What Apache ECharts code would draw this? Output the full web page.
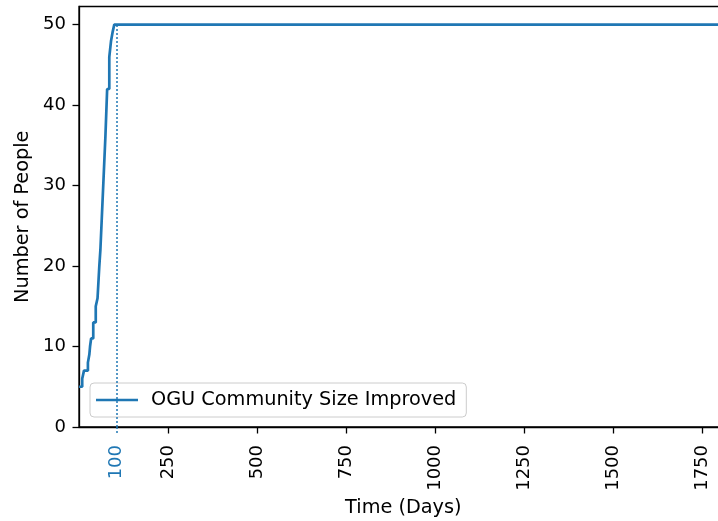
<!DOCTYPE html>
<html>
<head>
<meta charset="utf-8">
<script src="https://cdn.jsdelivr.net/npm/echarts@6/dist/echarts.min.js"></script>
<style>
html,body{margin:0;padding:0;background:#fff;}
#chart{width:718px;height:521px;}
</style>
</head>
<body>
<div id="chart"></div>
<script>
// Step data: day at which community size changes, and new size
const days   = [0, 9, 14, 25, 29, 31, 34, 40, 47, 52, 57, 60, 64, 69, 74, 79, 85, 90, 94, 99, 1820];
const people = [5, 6, 7, 8, 9, 10, 11, 13, 15, 16, 20, 22, 26, 31, 36, 42, 46, 48, 49, 50, 50];
const seriesName = 'OGU Community Size Improved';
const xTicks = [250, 500, 750, 1000, 1250, 1500, 1750];
const yTicks = [0, 10, 20, 30, 40, 50];
const markDay = 105;
const markLabel = '100';
const markTop = 50;
const xMin = 0, xMax = 1820;
const yMin = 0, yMax = 52.25;

const FONT = 'DejaVu Sans';
const BLUE = '#1f77b4';

const chart = echarts.init(document.getElementById('chart'), null, {renderer: 'canvas'});
const pxPerDay = 0.3564;
const gridLeft = 79;
const gridWidth = (xMax - xMin) * pxPerDay;

chart.setOption({
  animation: false,
  backgroundColor: '#fff',
  textStyle: {fontFamily: FONT},
  grid: {
    left: gridLeft, top: 6.5, bottom: 94,
    width: gridWidth,
    outerBoundsMode: 'none',
    containLabel: false,
    show: true, borderColor: '#000', borderWidth: 1.3, backgroundColor: 'transparent'
  },
  legend: {
    left: 90, top: 383,
    padding: [7, 10, 7, 6],
    icon: 'rect',
    itemWidth: 42, itemHeight: 2.7,
    backgroundColor: 'rgba(255,255,255,0.8)',
    borderColor: '#cccccc', borderWidth: 1, borderRadius: 4,
    textStyle: {fontFamily: FONT, fontSize: 19.3, color: '#000', padding: [0, 0, 0, 8], lineHeight: 20},
    data: [seriesName]
  },
  xAxis: [{
    type: 'value', min: xMin, max: xMax,
    name: 'Time (Days)', nameLocation: 'middle', nameGap: 69,
    nameTextStyle: {fontFamily: FONT, fontSize: 19.3, color: '#000'},
    axisLine: {show: true, onZero: false, lineStyle: {color: '#000', width: 1.3}},
    axisTick: {show: true, length: 6.5, customValues: xTicks, lineStyle: {color: '#000', width: 1.3}},
    axisLabel: {customValues: xTicks, rotate: 90, margin: 18, fontFamily: FONT, fontSize: 18, color: '#000',
      formatter: function (v) { return String(v); }},
    splitLine: {show: false}
  }, {
    type: 'value', min: xMin, max: xMax, position: 'bottom',
    axisLine: {show: false},
    axisTick: {show: true, length: 7, customValues: [markDay], lineStyle: {color: BLUE, width: 1.5, type: [2, 2]}},
    axisLabel: {customValues: [markDay], rotate: 90, margin: 18, fontFamily: FONT, fontSize: 18, color: BLUE,
      formatter: function () { return markLabel; }},
    splitLine: {show: false}
  }],
  yAxis: {
    type: 'value', min: yMin, max: yMax,
    name: 'Number of People', nameLocation: 'middle', nameGap: 42, nameRotate: 90,
    nameTextStyle: {fontFamily: FONT, fontSize: 19.3, color: '#000'},
    axisLine: {show: true, onZero: false, lineStyle: {color: '#000', width: 1.3}},
    axisTick: {show: true, length: 6.5, customValues: yTicks, lineStyle: {color: '#000', width: 1.3}},
    axisLabel: {customValues: yTicks, margin: 13, fontFamily: FONT, fontSize: 18, color: '#000'},
    splitLine: {show: false}
  },
  series: [{
    name: seriesName,
    type: 'line',
    xAxisIndex: 0,
    step: 'end',
    symbol: 'none',
    data: days.map((d, i) => [d, people[i]]),
    lineStyle: {color: BLUE, width: 2.7},
    itemStyle: {color: BLUE},
    markLine: {
      silent: true,
      symbol: ['none', 'none'],
      label: {show: false},
      lineStyle: {color: BLUE, width: 1.5, type: [2, 2]},
      data: [[{coord: [markDay, 0]}, {coord: [markDay, markTop]}]]
    }
  }]
});
</script>
</body>
</html>
